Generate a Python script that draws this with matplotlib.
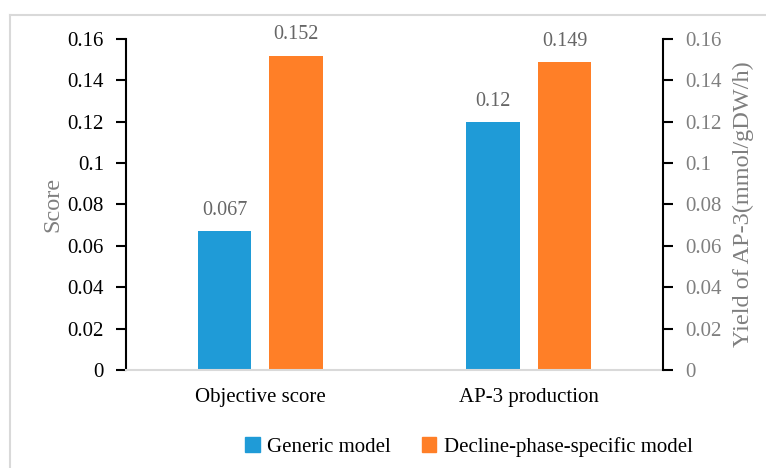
import numpy as np
import matplotlib
matplotlib.use("Agg")
import matplotlib.pyplot as plt
from matplotlib.lines import Line2D
from matplotlib.patches import Patch

# data
categories = ["Objective score", "AP-3 production"]
series_names = ["Generic model", "Decline-phase-specific model"]
generic_vals = [0.067, 0.12]
decline_vals = [0.152, 0.149]
value_labels_generic = ["0.067", "0.12"]
value_labels_decline = ["0.152", "0.149"]
y_ticks = [0, 0.02, 0.04, 0.06, 0.08, 0.1, 0.12, 0.14, 0.16]
y_tick_labels = ["0", "0.02", "0.04", "0.06", "0.08", "0.1", "0.12", "0.14", "0.16"]

BLUE = "#1F9BD7"
ORANGE = "#FF7F27"
GRID_GRAY = "#D9D9D9"
TEXT_GRAY = "#7F7F7F"
FS = 15

plt.rcParams["font.family"] = ["Liberation Serif", "DejaVu Serif"]

fig = plt.figure(figsize=(7.66, 4.68), dpi=100)
ax = fig.add_axes([0.1645, 0.2094, 0.701, 0.7073])

x = np.arange(len(categories))
width = 0.2
offset = 0.133

bars1 = ax.bar(x - offset, generic_vals, width, color=BLUE)
bars2 = ax.bar(x + offset, decline_vals, width, color=ORANGE)

for bars, labels in [(bars1, value_labels_generic), (bars2, value_labels_decline)]:
    for b, lab in zip(bars, labels):
        ax.annotate(lab, (b.get_x() + b.get_width() / 2, b.get_height()),
                    xytext=(0, 8), textcoords="offset points",
                    ha="center", va="bottom", fontsize=FS - 0.5, color="#666666")

ax.set_xlim(-0.5, 1.5)
ax.set_ylim(0, 0.16)
ax.set_xticks(x)
ax.set_xticklabels(categories, fontsize=FS)
ax.tick_params(axis="x", length=0, pad=13)
ax.set_yticks(y_ticks)
ax.set_yticklabels(y_tick_labels, fontsize=FS)
ax.tick_params(axis="y", length=7, width=1.5, pad=9, colors="black")
ax.set_ylabel("Score", fontsize=17.5, color=TEXT_GRAY, labelpad=3)

for s in ["top", "right"]:
    ax.spines[s].set_visible(False)
ax.spines["left"].set_linewidth(1.5)
ax.spines["bottom"].set_color(GRID_GRAY)
ax.spines["bottom"].set_linewidth(1.5)

ax2 = ax.twinx()
ax2.set_ylim(0, 0.16)
ax2.set_yticks(y_ticks)
ax2.set_yticklabels(y_tick_labels, fontsize=FS, color=TEXT_GRAY)
ax2.tick_params(axis="y", length=7, width=1.5, pad=9, color="black")
ax2.set_ylabel("Yield of AP-3(mmol/gDW/h)", fontsize=17.5, color=TEXT_GRAY, labelpad=8)
for s in ["top", "left", "bottom"]:
    ax2.spines[s].set_visible(False)
ax2.spines["right"].set_linewidth(1.5)

handles = [Patch(color=BLUE), Patch(color=ORANGE)]
fig.legend(handles, series_names, loc="center", bbox_to_anchor=(0.612, 0.045),
           ncol=2, frameon=False, fontsize=FS, handlelength=0.7, handleheight=0.7,
           handletextpad=0.35, columnspacing=1.5)

# light frame around the chart area
fig.add_artist(Line2D([0.013, 0.013], [0.0, 0.968], color=GRID_GRAY, lw=1.5))
fig.add_artist(Line2D([0.013, 1.0], [0.968, 0.968], color=GRID_GRAY, lw=1.5))

fig.savefig("out.png", dpi=100)
